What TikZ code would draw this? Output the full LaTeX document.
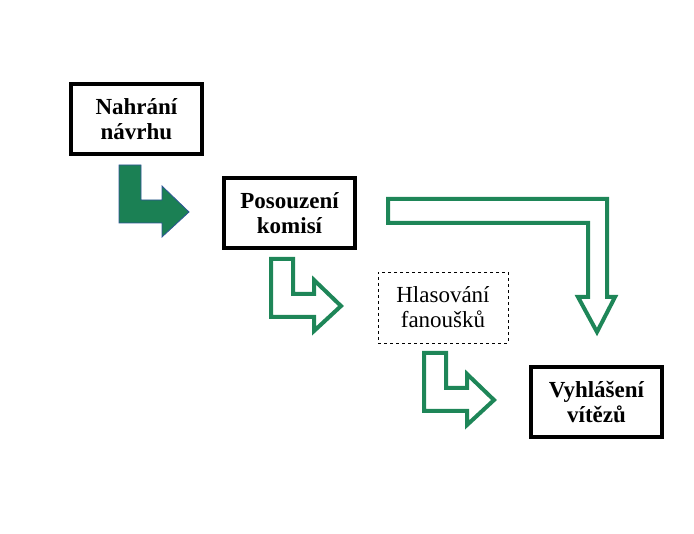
\documentclass[tikz,border=0pt]{standalone}
\usepackage{fontspec}
\setmainfont{Liberation Serif}
\usepackage{tikz}
\usetikzlibrary{calc}
\definecolor{arrowgreen}{RGB}{27,128,84}
\definecolor{arrowedge}{RGB}{47,85,151}
\definecolor{linegreen}{RGB}{30,134,88}
\def\bentarrow[#1](#2,#3){\draw[#1] ($(#2,#3)+(0,0)$) -- ++(22,0) -- ++(0,35) -- ++(21,0) -- ++(0,-14) -- ++(27,26) -- ++(-27,25) -- ++(0,-14) -- ++(-43,0) -- cycle;}

\begin{document}
\begin{tikzpicture}[x=1pt,y=-1pt,
	box/.style={draw, line width=3.5pt, minimum width=131pt, minimum height=70pt, align=center, font=\fontsize{23}{25}\selectfont\bfseries},
	dashbox/.style={draw, dashed, line width=0.8pt, minimum width=130pt, minimum height=71pt, align=center, font=\fontsize{23}{25}\selectfont}]
			%%%%% START %%%%%
			\useasboundingbox (0,0) rectangle (694,534);
			
			\node[box] (nahrani) at (136.5,119) {Nahrání\\návrhu};
			\node[box] (posouzeni) at (289.5,213) {Posouzení\\komisí};
			\node[dashbox] (hlasovani) at (443,307.5) {Hlasování\\fanoušků};
			\node[box] (vyhlaseni) at (596.5,402) {Vyhlášení\\vítězů};
			
			\bentarrow[fill=arrowgreen, draw=arrowedge, line width=0.8pt](119,165)
			\bentarrow[draw=linegreen, line width=4pt, line join=miter](271,259)
			\bentarrow[draw=linegreen, line width=4pt, line join=miter](424,353)
			
			\draw[linegreen, line width=4pt, line join=miter] (388,199) -- (607,199) -- (607,297) -- (615,297) -- (597,332) -- (578,297) -- (588,297) -- (588,223) -- (388,223) -- cycle;
			
			%%%%% END %%%%%
		\end{tikzpicture}
\end{document}
